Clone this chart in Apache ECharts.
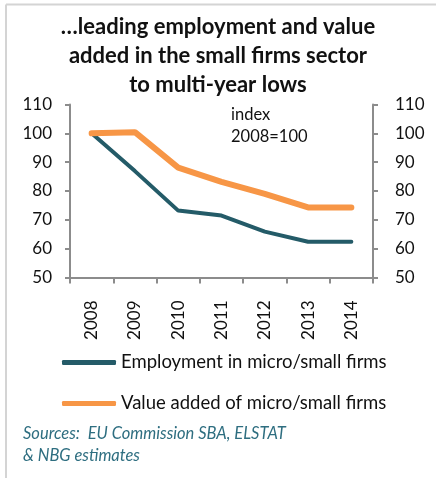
<!DOCTYPE html>
<html>
<head>
<meta charset="utf-8">
<script src="https://cdn.jsdelivr.net/npm/echarts@6/dist/echarts.min.js"></script>
<style>
  html, body { margin: 0; padding: 0; background: #ffffff; }
  #chart { width: 436px; height: 478px; }
</style>
</head>
<body>
<div id="chart"></div>
<script>
// Years on the category axis
const years = ['2008', '2009', '2010', '2011', '2012', '2013', '2014'];
// Index values, 2008 = 100
const employment = [100, 86.9, 73.2, 71.5, 65.9, 62.4, 62.4];
const valueAdded = [100, 100.4, 88.1, 83.2, 79.0, 74.3, 74.3];
// Scale for both value axes
const yMin = 50, yMax = 110, yStep = 10;

const FONT = 'Lato, "Liberation Sans", sans-serif';
const AXIS_GREY = '#8c8c8c';
const TEAL = '#245b68';
const ORANGE = '#f79646';

const chart = echarts.init(document.getElementById('chart'), null, { renderer: 'canvas' });

const valueAxis = (pos, margin) => ({
  type: 'value',
  position: pos,
  min: yMin,
  max: yMax,
  interval: yStep,
  axisLine: { show: true, lineStyle: { color: AXIS_GREY, width: 2 } },
  axisTick: { show: true, length: 5, lineStyle: { color: AXIS_GREY, width: 2 } },
  splitLine: { show: false },
  axisLabel: { color: '#111', fontFamily: FONT, fontSize: 17, margin: margin }
});

chart.setOption({
  animation: false,
  backgroundColor: '#ffffff',
  title: {
    text: '…leading employment and value\nadded in the small firms sector\nto multi-year lows',
    left: 'center',
    top: 7,
    textStyle: { fontFamily: FONT, fontWeight: 'bold', fontSize: 22, lineHeight: 29, color: '#111' }
  },
  grid: { left: 70, right: 63, top: 104.5, bottom: 200.5 },
  xAxis: {
    type: 'category',
    data: years,
    boundaryGap: true,
    axisLine: { lineStyle: { color: AXIS_GREY, width: 2 } },
    axisTick: { show: true, length: 6, lineStyle: { color: AXIS_GREY, width: 2 } },
    axisLabel: { rotate: 90, color: '#111', fontFamily: FONT, fontSize: 17, margin: 23 }
  },
  yAxis: [valueAxis('left', 18), valueAxis('right', 22)],
  legend: {
    orient: 'vertical',
    left: 62,
    top: 353,
    padding: 0,
    itemWidth: 54,
    itemHeight: 5,
    itemGap: 22,
    icon: 'roundRect',
    textStyle: { fontFamily: FONT, fontSize: 18.5, color: '#111' },
    data: ['Employment in micro/small firms', 'Value added of micro/small firms']
  },
  graphic: [
    { type: 'line', shape: { x1: 6, y1: 4.5, x2: 436, y2: 4.5 }, style: { stroke: '#d4d4d4', lineWidth: 2 } },
    { type: 'line', shape: { x1: 6, y1: 4.5, x2: 6, y2: 478 }, style: { stroke: '#d4d4d4', lineWidth: 2 } },
    {
      type: 'text', left: 231, top: 104,
      style: { text: 'index\n2008=100', fontFamily: FONT, fontSize: 16.5, lineHeight: 22, fill: '#111' }
    },
    {
      type: 'text', left: 23, top: 423,
      style: {
        text: 'Sources:  EU Commission SBA, ELSTAT\n& NBG estimates',
        fontFamily: FONT, fontStyle: 'italic', fontSize: 16.5, lineHeight: 22, fill: '#2e6e80'
      }
    }
  ],
  series: [
    {
      name: 'Employment in micro/small firms',
      type: 'line',
      data: employment,
      yAxisIndex: 0,
      showSymbol: false,
      color: TEAL,
      lineStyle: { color: TEAL, width: 4, cap: 'round', join: 'round' }
    },
    {
      name: 'Value added of micro/small firms',
      type: 'line',
      data: valueAdded,
      yAxisIndex: 0,
      showSymbol: false,
      color: ORANGE,
      lineStyle: { color: ORANGE, width: 6, cap: 'round', join: 'round' }
    }
  ]
});
</script>
</body>
</html>
